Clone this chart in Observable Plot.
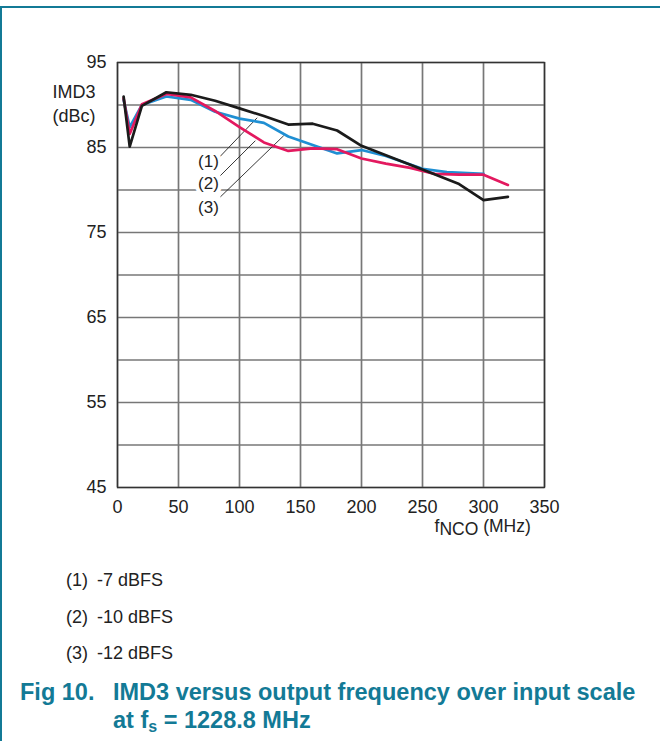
<!DOCTYPE html>
<html><head><meta charset="utf-8">
<script src="https://cdn.jsdelivr.net/npm/d3@7"></script>
<script src="https://cdn.jsdelivr.net/npm/@observablehq/plot@0.6"></script>
<style>
body{margin:0;background:#fff;font-family:"Liberation Sans",Arial,Helvetica,sans-serif;}
#page{position:relative;width:660px;height:741px;overflow:hidden;}
#frame{position:absolute;left:0;top:6px;width:660px;height:740px;border-top:2px solid #137a96;border-left:2px solid #137a96;}
#chart{position:absolute;left:0;top:0;}
.leg{position:absolute;left:66px;font-size:18px;color:#222;line-height:20px;white-space:nowrap;}
.leg .n{display:inline-block;width:31px;}
.cap{position:absolute;left:20px;font-size:23.5px;font-weight:bold;color:#137a96;line-height:26px;white-space:nowrap;}
.cap .n{display:inline-block;width:93px;}
.cap sub{font-size:16px;vertical-align:-4px;line-height:0;}
</style></head>
<body><div id="page"><div id="frame"></div><div id="chart"></div><div id="legend"></div><div id="caption"></div></div>
<script>
// ---- data ----
const freqBlack = [5, 10, 20, 40, 60, 80, 100, 120, 140, 160, 180, 200, 250, 280, 300, 320];
const imdBlack  = [91.0, 85.1, 89.9, 91.5, 91.2, 90.5, 89.6, 88.7, 87.7, 87.8, 87.0, 85.2, 82.4, 80.7, 78.8, 79.2];
const freqRed   = [5, 10, 20, 40, 60, 80, 100, 120, 140, 160, 180, 200, 220, 240, 260, 280, 300, 320];
const imdRed    = [90.8, 86.6, 90.1, 91.3, 90.9, 89.3, 87.4, 85.6, 84.6, 84.9, 84.8, 83.7, 83.1, 82.6, 81.9, 81.8, 81.8, 80.6];
const freqBlue  = [5, 10, 20, 40, 60, 80, 100, 120, 140, 160, 180, 200, 220, 250, 270, 300];
const imdBlue   = [90.6, 87.4, 90.0, 91.0, 90.6, 89.2, 88.4, 87.9, 86.3, 85.3, 84.3, 84.7, 84.0, 82.5, 82.1, 81.9];

const seriesTags   = ["(1)", "(2)", "(3)"];
const seriesNames  = ["-7 dBFS", "-10 dBFS", "-12 dBFS"];
const seriesColors = ["#1b1b1b", "#e3195f", "#1f8fd3"];

const xTicks = [0, 50, 100, 150, 200, 250, 300, 350];
const yTicks = [45, 55, 65, 75, 85, 95];
const yGridValues = [45, 50, 55, 60, 65, 70, 75, 80, 85, 90, 95];

// annotation callouts (data coordinates)
const annTextX  = [74.6, 74.6, 74.6];
const annTextY  = [83.35, 80.8, 77.9];
const annFromX  = [83.8, 84.4, 84.4];
const annFromY  = [83.9, 81.7, 79.2];
const annToX    = [114.5, 113, 136.3];
const annToY    = [88.5, 85.8, 86.4];

const yLabel = "IMD3\n(dBc)";
const xLabelParts = ["f", "NCO", " (MHz)"];
const captionNum = "Fig 10.";
const captionLine1 = "IMD3 versus output frequency over input scale";
const captionLine2a = "at f";
const captionLine2sub = "s";
const captionLine2b = " = 1228.8 MHz";

// ---- build tables ----
const seriesData = [
  {f: freqBlue, v: imdBlue, s: seriesNames[2]},
  {f: freqRed, v: imdRed, s: seriesNames[1]},
  {f: freqBlack, v: imdBlack, s: seriesNames[0]}
];
const rows = seriesData.flatMap(d => d.f.map((f, i) => ({f, v: d.v[i], s: d.s})));
const ann = seriesTags.map((t, i) => ({t, tx: annTextX[i], ty: annTextY[i], x1: annFromX[i], y1: annFromY[i], x2: annToX[i], y2: annToY[i]}));
const xLabelPlain = xLabelParts.join("");

const font = '"Liberation Sans", Arial, Helvetica, sans-serif';
const chart = Plot.plot({
  width: 660, height: 545,
  marginLeft: 117, marginRight: 116, marginTop: 62, marginBottom: 58,
  style: {fontFamily: font, fontSize: "18px", color: "#222", background: "transparent"},
  x: {domain: [0, 350]},
  y: {domain: [45, 95]},
  color: {domain: seriesNames, range: seriesColors},
  marks: [
    Plot.gridX(xTicks, {stroke: "#777", strokeOpacity: 1, strokeWidth: 1.7}),
    Plot.gridY(yGridValues, {stroke: "#777", strokeOpacity: 1, strokeWidth: 1.7}),
    Plot.frame({stroke: "#333", strokeWidth: 1.4}),
    Plot.axisX(xTicks, {tickSize: 0, tickPadding: 13, label: null, fontSize: 18}),
    Plot.axisY(yTicks, {tickSize: 0, tickPadding: 11, label: null, fontSize: 18}),
    Plot.link(ann, {x1: "x1", y1: "y1", x2: "x2", y2: "y2", stroke: "#222", strokeWidth: 0.9}),
    Plot.text(ann, {x: "tx", y: "ty", text: "t", fill: "#222", stroke: "white", strokeWidth: 8, fontSize: 17}),
    Plot.line(rows, {x: "f", y: "v", z: "s", stroke: "s", strokeWidth: 2.7, strokeLinejoin: "round"}),
    Plot.text([yLabel], {frameAnchor: "top-left", text: d => d, textAnchor: "start", lineAnchor: "middle", lineHeight: 1.3, dx: -65, dy: 40, fontSize: 18, fill: "#222"}),
    Plot.text([xLabelPlain], {frameAnchor: "bottom-left", text: d => d, textAnchor: "start", lineAnchor: "bottom", dx: 317, dy: 44, fontSize: 17.5, fill: "#222"})
  ]
});
document.getElementById("chart").appendChild(chart);

// subscript for the x label
d3.select(chart).selectAll("text").filter(function() { return this.textContent === xLabelPlain; })
  .each(function() {
    const el = d3.select(this);
    el.text(null);
    el.append("tspan").text(xLabelParts[0]);
    el.append("tspan").attr("dy", 3.5).text(xLabelParts[1]);
    el.append("tspan").attr("dy", -3.5).text(xLabelParts[2]);
  });

// legend lines
const legendTops = [570, 607, 643];
const legend = d3.select("#legend");
seriesTags.forEach((t, i) => {
  const d = legend.append("div").attr("class", "leg").style("top", legendTops[i] + "px");
  d.append("span").attr("class", "n").text(t);
  d.append("span").text(seriesNames[i]);
});

// caption
const cap = d3.select("#caption");
const c1 = cap.append("div").attr("class", "cap").style("top", "679px");
c1.append("span").attr("class", "n").text(captionNum);
c1.append("span").text(captionLine1);
const c2 = cap.append("div").attr("class", "cap").style("top", "707px").style("left", "113px");
c2.append("span").text(captionLine2a);
c2.append("sub").text(captionLine2sub);
c2.append("span").text(captionLine2b);
</script>
</body></html>
